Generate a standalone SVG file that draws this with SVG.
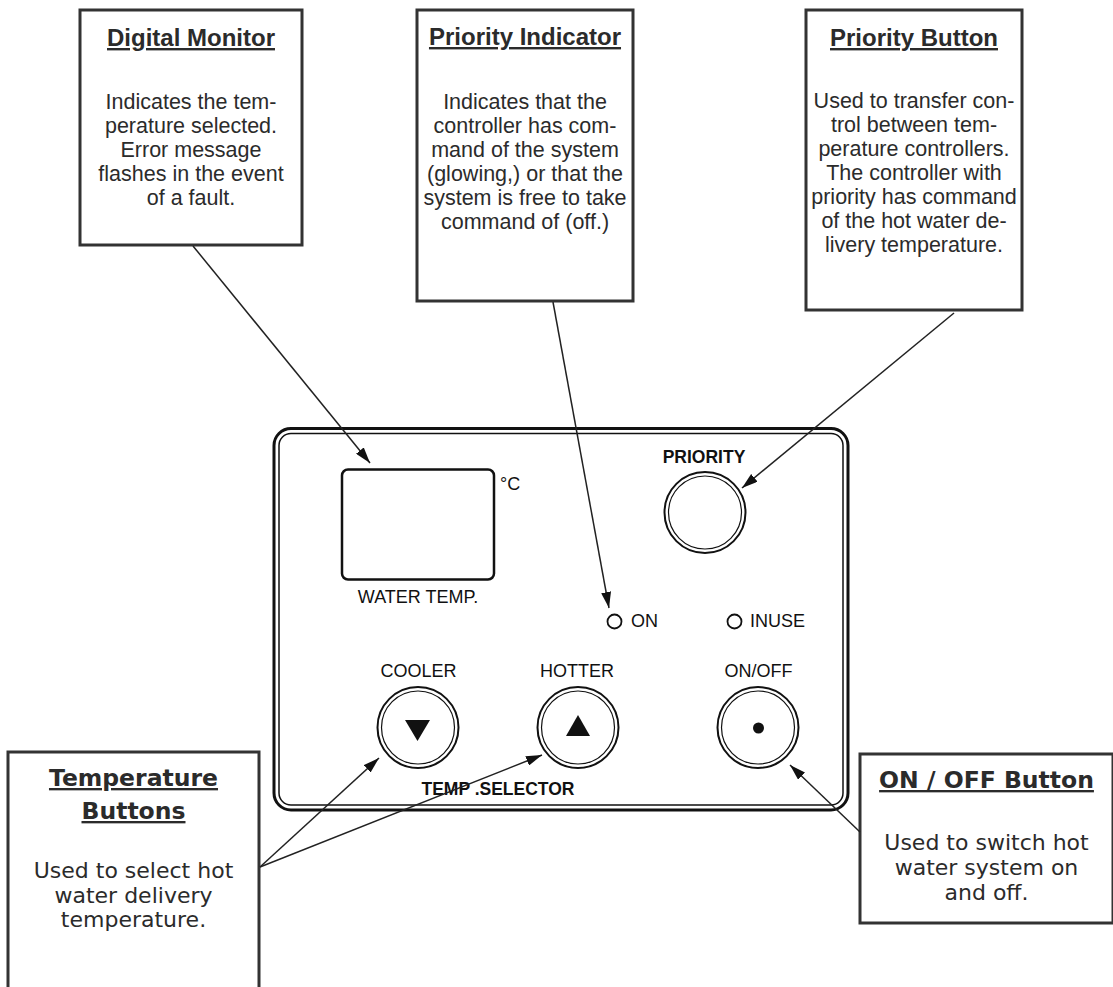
<svg xmlns="http://www.w3.org/2000/svg" width="1113" height="987" viewBox="0 0 1113 987">
<style>
.box{fill:#fff;stroke:#333;stroke-width:3}
.ttl{font-family:"DejaVu Sans",sans-serif;font-weight:bold;font-size:23.5px;fill:#2b2b2b;text-anchor:middle;text-decoration:underline}
.bd{font-family:"DejaVu Sans",sans-serif;font-size:22px;fill:#2b2b2b;text-anchor:middle}
.ttls{font-family:"Liberation Sans",Arial,sans-serif;font-weight:bold;font-size:24px;fill:#2b2b2b;text-anchor:middle;text-decoration:underline}
.bds{font-family:"Liberation Sans",Arial,sans-serif;font-size:21.5px;fill:#2b2b2b;text-anchor:middle}
.lbl{font-family:"Liberation Sans",Arial,sans-serif;font-size:18px;fill:#111}
.lblb{font-family:"Liberation Sans",Arial,sans-serif;font-size:17.5px;font-weight:bold;fill:#111}
.ring{fill:none;stroke:#111}
.con{stroke:#222;stroke-width:1.5;fill:none;marker-end:url(#ah)}
</style>
<defs>
<marker id="ah" viewBox="0 0 16 10" refX="16" refY="5" markerWidth="16" markerHeight="10" markerUnits="userSpaceOnUse" orient="auto">
<path d="M0,0 L16,5 L0,10 Z" fill="#111"/>
</marker>
</defs>
<rect width="1113" height="987" fill="#fff"/>

<g id="panel">
<rect x="274" y="428.5" width="574" height="381.5" rx="17" fill="#fff" stroke="#111" stroke-width="3"/>
<rect x="279" y="433.5" width="564" height="371.5" rx="12" fill="none" stroke="#111" stroke-width="1.5"/>
<g id="display">
<rect x="342" y="469.5" width="152" height="110" rx="6" fill="#fff" stroke="#111" stroke-width="2.5"/>
<text class="lbl" x="500" y="490" font-size="21">°C</text>
<text class="lbl" x="418" y="603" text-anchor="middle">WATER TEMP.</text>
</g>
<g id="priority-btn">
<text class="lblb" x="704" y="463" text-anchor="middle" font-size="18">PRIORITY</text>
<circle class="ring" cx="705" cy="512.5" r="40.5" stroke-width="2"/>
<circle class="ring" cx="705" cy="512.5" r="36.5" stroke-width="1.2"/>
</g>
<g id="on-led">
<circle class="ring" cx="614.5" cy="621.5" r="7" stroke-width="1.8"/>
<text class="lbl" x="631" y="627">ON</text>
</g>
<g id="inuse-led">
<circle class="ring" cx="734.5" cy="621.5" r="7" stroke-width="1.8"/>
<text class="lbl" x="750" y="627">INUSE</text>
</g>
<g id="cooler-btn">
<text class="lbl" x="418.5" y="677" text-anchor="middle">COOLER</text>
<circle class="ring" cx="418" cy="727.5" r="40.5" stroke-width="2"/>
<circle class="ring" cx="418" cy="727.5" r="36.5" stroke-width="1.2"/>
<path d="M405,720 L430,720 L417.5,741 Z" fill="#111"/>
</g>
<g id="hotter-btn">
<text class="lbl" x="577" y="677" text-anchor="middle">HOTTER</text>
<circle class="ring" cx="578" cy="727.5" r="40.5" stroke-width="2"/>
<circle class="ring" cx="578" cy="727.5" r="36.5" stroke-width="1.2"/>
<path d="M578,715 L590,736 L566,736 Z" fill="#111"/>
</g>
<g id="onoff-btn">
<text class="lbl" x="758.5" y="677" text-anchor="middle">ON/OFF</text>
<circle class="ring" cx="758" cy="727.5" r="40.5" stroke-width="2"/>
<circle class="ring" cx="758" cy="727.5" r="36.5" stroke-width="1.2"/>
<circle cx="758.5" cy="728" r="5.5" fill="#111"/>
</g>
<text class="lblb" x="498" y="795" text-anchor="middle">TEMP .SELECTOR</text>
</g>

<g id="digital-monitor">
<rect class="box" x="80" y="10" width="222" height="235"/>
<text class="ttls" x="191" y="46">Digital Monitor</text>
<text class="bds" x="191" y="109">Indicates the tem-</text>
<text class="bds" x="191" y="133">perature selected.</text>
<text class="bds" x="191" y="157">Error message</text>
<text class="bds" x="191" y="181">flashes in the event</text>
<text class="bds" x="191" y="205">of a fault.</text>
</g>

<g id="priority-indicator">
<rect class="box" x="417" y="10" width="216" height="291"/>
<text class="ttls" x="525" y="45">Priority Indicator</text>
<text class="bds" x="525" y="109">Indicates that the</text>
<text class="bds" x="525" y="133">controller has com-</text>
<text class="bds" x="525" y="157">mand of the system</text>
<text class="bds" x="525" y="181">(glowing,) or that the</text>
<text class="bds" x="525" y="205">system is free to take</text>
<text class="bds" x="525" y="229">command of (off.)</text>
</g>

<g id="priority-button">
<rect class="box" x="806" y="10" width="216" height="300"/>
<text class="ttls" x="914" y="46">Priority Button</text>
<text class="bds" x="914" y="108">Used to transfer con-</text>
<text class="bds" x="914" y="132">trol between tem-</text>
<text class="bds" x="914" y="156">perature controllers.</text>
<text class="bds" x="914" y="180">The controller with</text>
<text class="bds" x="914" y="204">priority has command</text>
<text class="bds" x="914" y="228">of the hot water de-</text>
<text class="bds" x="914" y="252">livery temperature.</text>
</g>

<g id="temperature-buttons">
<rect class="box" x="8" y="752" width="251" height="260"/>
<text class="ttl" x="133.5" y="786">Temperature</text>
<text class="ttl" x="133.5" y="819">Buttons</text>
<text class="bd" x="133.5" y="878">Used to select hot</text>
<text class="bd" x="133.5" y="902.5">water delivery</text>
<text class="bd" x="133.5" y="927">temperature.</text>
</g>

<g id="onoff-button">
<rect class="box" x="860" y="754" width="253" height="169"/>
<text class="ttl" x="986.5" y="788">ON / OFF Button</text>
<text class="bd" x="986.5" y="850">Used to switch hot</text>
<text class="bd" x="986.5" y="875">water system on</text>
<text class="bd" x="986.5" y="900">and off.</text>
</g>

<g id="connectors">
<line class="con" x1="193" y1="246" x2="370" y2="463"/>
<line class="con" x1="553" y1="302" x2="609" y2="608"/>
<line class="con" x1="954" y1="313" x2="742" y2="488"/>
<line class="con" x1="260" y1="867" x2="379" y2="758"/>
<line class="con" x1="260" y1="867" x2="542" y2="755"/>
<line class="con" x1="860" y1="832" x2="790" y2="765"/>
</g>
</svg>
